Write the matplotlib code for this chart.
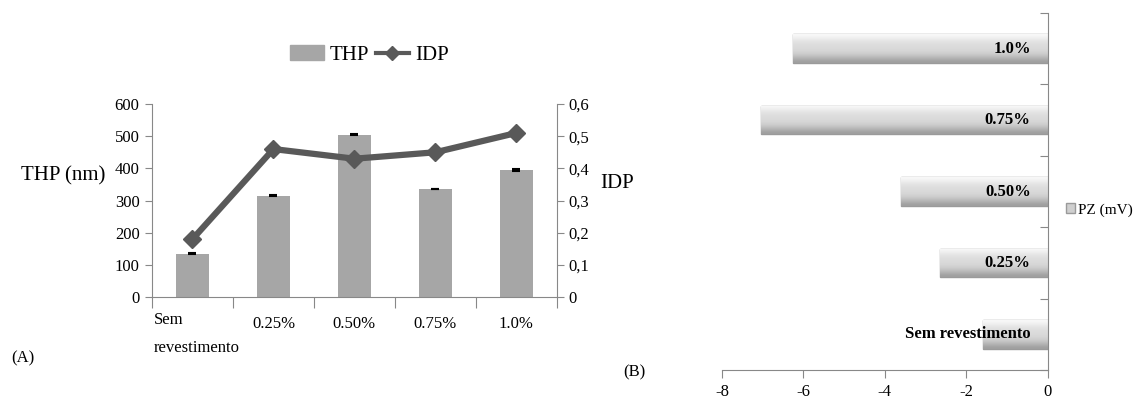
import numpy as np
import matplotlib.pyplot as plt
from matplotlib.patches import Patch
from matplotlib.lines import Line2D

plt.rcParams['font.family'] = ['Liberation Serif', 'DejaVu Serif']
plt.rcParams['axes.unicode_minus'] = False

# --- dados (A) ---
categorias = ['Sem\nrevestimento', '0.25%', '0.50%', '0.75%', '1.0%']
thp = [135, 315, 505, 335, 395]
thp_err = [2, 2, 2, 0, 2]
idp = [0.18, 0.46, 0.43, 0.45, 0.51]

# --- dados (B) ---
categorias_pz = ['Sem revestimento', '0.25%', '0.50%', '0.75%', '1.0%']
pz = [-1.6, -2.65, -3.6, -7.05, -6.25]

fig = plt.figure(figsize=(11.37, 4.08), dpi=100)

# ---------- grafico A ----------
ax1 = fig.add_axes([0.1337, 0.272, 0.356, 0.473])
x = np.arange(len(categorias))
ax1.bar(x, thp, 0.4, color='#a6a6a6', yerr=thp_err, ecolor='black',
        capsize=3, error_kw={'elinewidth': 1, 'capthick': 1.5})
ax1.set_xlim(-0.5, len(categorias) - 0.5)
ax1.set_ylim(0, 600)
ax1.set_yticks(np.arange(0, 601, 100))
ax1.set_xticks(np.arange(-0.5, len(categorias) + 0.5, 1))
ax1.set_xticklabels([])
ax1.tick_params(axis='x', length=8, color='#888888')
ax1.tick_params(axis='y', length=5, color='#888888', labelsize=12, pad=4)
for s in ['top', 'right']:
    ax1.spines[s].set_visible(False)
for s in ['left', 'bottom']:
    ax1.spines[s].set_color('#888888')
for i, lab in enumerate(categorias):
    if i == 0:
        ax1.text(-0.48, -0.08, lab, transform=ax1.get_xaxis_transform(),
                 ha='left', va='top', fontsize=12, linespacing=2.0)
    else:
        ax1.text(i, -0.1, lab, transform=ax1.get_xaxis_transform(),
                 ha='center', va='top', fontsize=12)
fig.text(0.056, 1 - 176 / 408, 'THP (nm)', fontsize=15, ha='center', va='center')

ax2 = ax1.twinx()
ax2.plot(x, idp, color='#595959', lw=4.5, marker='D', markersize=9)
ax2.set_ylim(0, 0.6)
ax2.set_yticks(np.arange(0, 0.61, 0.1))
ax2.set_yticklabels(['0', '0,1', '0,2', '0,3', '0,4', '0,5', '0,6'])
ax2.tick_params(axis='y', length=5, color='#888888', labelsize=12)
for s in ['top', 'left', 'bottom']:
    ax2.spines[s].set_visible(False)
ax2.spines['right'].set_color('#888888')
fig.text(0.543, 1 - 184 / 408, 'IDP', fontsize=15, ha='center', va='center')

handles = [Patch(color='#a6a6a6'),
           Line2D([0], [0], color='#595959', lw=3, marker='D', markersize=7)]
fig.legend(handles, ['THP', 'IDP'], loc='center', bbox_to_anchor=(0.325, 0.865),
           ncol=2, frameon=False, fontsize=15, handlelength=1.6,
           columnspacing=0.3, handletextpad=0.3)

fig.text(0.010, 1 - 362 / 408, '(A)', fontsize=12)

# ---------- grafico B ----------
ax3 = fig.add_axes([0.635, 0.093, 0.2865, 0.875])
y = np.arange(len(categorias_pz))
barras = ax3.barh(y, pz, 0.4, color='#cfcfcf', edgecolor='#9a9a9a',
                  linewidth=1, zorder=2)
# sombreado tipo cilindro
grad = np.array([0.62, 0.70, 0.78, 0.83, 0.85, 0.86, 0.88, 0.92, 0.97]).reshape(-1, 1)
for b in barras:
    x0, y0 = b.get_x(), b.get_y()
    im = ax3.imshow(grad, cmap='gray', vmin=0, vmax=1, aspect='auto',
                    extent=[x0, x0 + b.get_width(), y0, y0 + b.get_height()],
                    origin='lower', interpolation='bicubic', zorder=2.5)
    im.set_clip_path(b)
for yi, lab in zip(y, categorias_pz):
    ax3.text(-0.42, yi, lab, ha='right', va='center', fontsize=12,
             fontweight='bold', zorder=3)
ax3.set_xlim(-8, 0)
ax3.set_ylim(-0.5, len(categorias_pz) - 0.5)
ax3.set_xticks(np.arange(-8, 1, 2))
ax3.set_yticks(np.arange(-0.5, len(categorias_pz), 1))
ax3.set_yticklabels([])
ax3.yaxis.tick_right()
ax3.tick_params(axis='y', direction='in', length=6, color='#888888')
ax3.tick_params(axis='x', length=6, color='#888888', labelsize=12, pad=4)
for s in ['top', 'left']:
    ax3.spines[s].set_visible(False)
for s in ['right', 'bottom']:
    ax3.spines[s].set_color('#888888')

fig.legend([Patch(facecolor='#cfcfcf', edgecolor='#9a9a9a')], ['PZ (mV)'],
           loc='center left', bbox_to_anchor=(0.936, 0.485), frameon=False,
           fontsize=11, handlelength=0.6, handleheight=0.6, handletextpad=0.2,
           borderpad=0.1, borderaxespad=0)

fig.text(0.548, 1 - 376 / 408, '(B)', fontsize=12)

fig.savefig('out.png', dpi=100)
